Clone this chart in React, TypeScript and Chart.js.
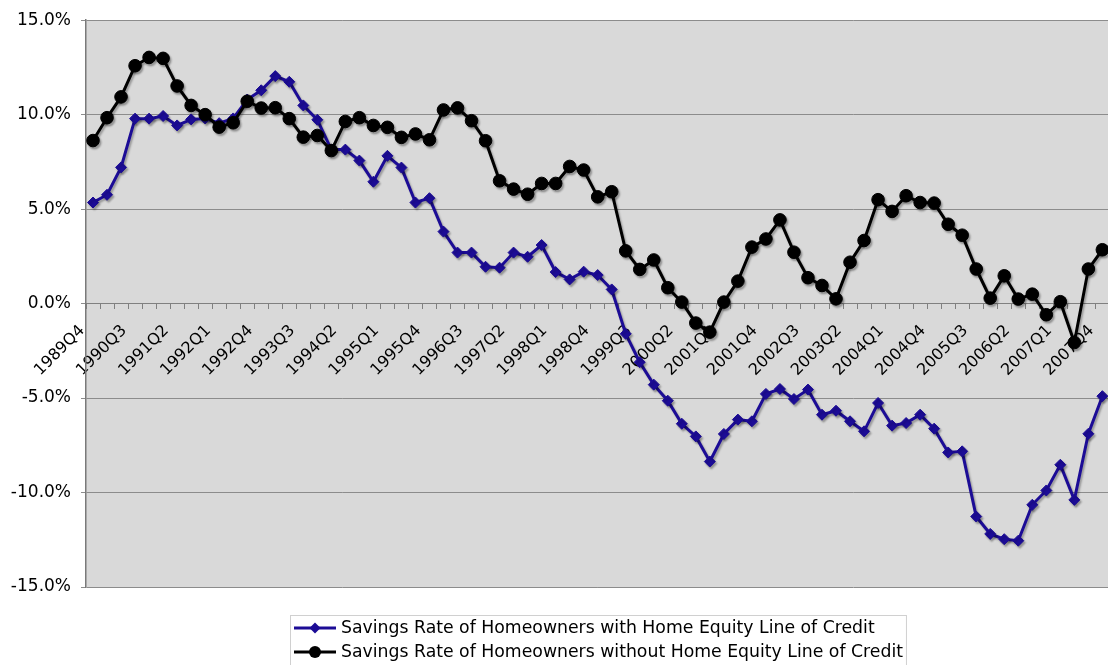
import React, { useEffect, useRef } from 'react';
import { Chart, registerables } from 'chart.js';

Chart.register(...registerables);

const quarters = [
  '1989Q4',
  '1990Q1', '1990Q2', '1990Q3', '1990Q4',
  '1991Q1', '1991Q2', '1991Q3', '1991Q4',
  '1992Q1', '1992Q2', '1992Q3', '1992Q4',
  '1993Q1', '1993Q2', '1993Q3', '1993Q4',
  '1994Q1', '1994Q2', '1994Q3', '1994Q4',
  '1995Q1', '1995Q2', '1995Q3', '1995Q4',
  '1996Q1', '1996Q2', '1996Q3', '1996Q4',
  '1997Q1', '1997Q2', '1997Q3', '1997Q4',
  '1998Q1', '1998Q2', '1998Q3', '1998Q4',
  '1999Q1', '1999Q2', '1999Q3', '1999Q4',
  '2000Q1', '2000Q2', '2000Q3', '2000Q4',
  '2001Q1', '2001Q2', '2001Q3', '2001Q4',
  '2002Q1', '2002Q2', '2002Q3', '2002Q4',
  '2003Q1', '2003Q2', '2003Q3', '2003Q4',
  '2004Q1', '2004Q2', '2004Q3', '2004Q4',
  '2005Q1', '2005Q2', '2005Q3', '2005Q4',
  '2006Q1', '2006Q2', '2006Q3', '2006Q4',
  '2007Q1', '2007Q2', '2007Q3', '2007Q4',
];

const withHeloc = [
  5.35, 5.76, 7.21, 9.79, 9.79, 9.93, 9.43, 9.75, 9.8, 9.55,
  9.8, 10.8, 11.29, 12.04, 11.74, 10.49, 9.73, 8.15, 8.15, 7.57,
  6.45, 7.82, 7.2, 5.35, 5.58, 3.81, 2.7, 2.7, 1.95, 1.9,
  2.7, 2.48, 3.1, 1.67, 1.28, 1.69, 1.51, 0.75, -1.6, -3.1,
  -4.29, -5.14, -6.36, -7.03, -8.36, -6.9, -6.14, -6.23, -4.78, -4.52,
  -5.05, -4.55, -5.88, -5.67, -6.23, -6.76, -5.26, -6.46, -6.32, -5.88,
  -6.62, -7.88, -7.82, -11.27, -12.19, -12.47, -12.55, -10.65, -9.89, -8.53,
  -10.39, -6.89, -4.9,
];

const withoutHeloc = [
  8.63, 9.84, 10.94, 12.59, 13.03, 12.98, 11.52, 10.49, 10.0, 9.34,
  9.57, 10.71, 10.35, 10.37, 9.79, 8.81, 8.9, 8.1, 9.64, 9.84,
  9.43, 9.33, 8.8, 8.98, 8.67, 10.25, 10.36, 9.68, 8.62, 6.5,
  6.06, 5.79, 6.36, 6.36, 7.26, 7.07, 5.65, 5.92, 2.79, 1.81,
  2.31, 0.84, 0.08, -1.03, -1.51, 0.08, 1.19, 2.99, 3.42, 4.43,
  2.72, 1.37, 0.96, 0.25, 2.19, 3.34, 5.5, 4.88, 5.71, 5.35,
  5.32, 4.2, 3.62, 1.83, 0.29, 1.47, 0.24, 0.5, -0.59, 0.1,
  -2.06, 1.83, 2.85,
];

const seriesNames = [
  'Savings Rate of Homeowners with Home Equity Line of Credit',
  'Savings Rate of Homeowners without Home Equity Line of Credit',
];

const Y_MIN = -15;
const Y_MAX = 15;
const Y_STEP = 5;
const LABEL_EVERY = 3;

const BLUE = '#1c0c96';
const BLACK = '#000000';
const FONT = '"DejaVu Sans", sans-serif';

const plotBg = {
  id: 'plotBg',
  beforeDraw(chart: any) {
    const { ctx, chartArea } = chart;
    ctx.save();
    ctx.fillStyle = '#d9d9d9';
    ctx.fillRect(chartArea.left, chartArea.top, chartArea.right - chartArea.left, chartArea.bottom - chartArea.top);
    ctx.restore();
  },
};

const shadow = {
  id: 'shadow',
  beforeDatasetsDraw(chart: any) {
    const ctx = chart.ctx;
    ctx.save();
    ctx.shadowColor = 'rgba(0,0,0,0.3)';
    ctx.shadowOffsetX = 1.5;
    ctx.shadowOffsetY = 2;
    ctx.shadowBlur = 2;
  },
  afterDatasetsDraw(chart: any) {
    chart.ctx.restore();
  },
};

const boxLegend = {
  id: 'boxLegend',
  afterDraw(chart: any) {
    const { ctx, chartArea } = chart;
    const datasets = chart.data.datasets;
    ctx.save();
    ctx.font = '17.3px ' + FONT;
    let textW = 0;
    datasets.forEach((ds: any) => {
      textW = Math.max(textW, ctx.measureText(ds.label).width);
    });
    const sampleW = 42;
    const boxW = 4 + sampleW + 5 + textW + 3;
    const center = (chartArea.left + chartArea.right) / 2;
    const left = Math.round(center - boxW / 2);
    const top = Math.round(chartArea.bottom + 28);
    ctx.strokeStyle = '#d0d0d0';
    ctx.lineWidth = 1;
    ctx.strokeRect(left + 0.5, top + 0.5, boxW, 80);
    datasets.forEach((ds: any, i: number) => {
      const y = top + 13 + i * 24;
      const x0 = left + 4;
      const x1 = x0 + sampleW;
      const xm = (x0 + x1) / 2;
      ctx.strokeStyle = ds.borderColor;
      ctx.lineWidth = 3;
      ctx.beginPath();
      ctx.moveTo(x0, y);
      ctx.lineTo(x1, y);
      ctx.stroke();
      ctx.fillStyle = ds.borderColor;
      ctx.beginPath();
      if (ds.pointStyle === 'rectRot') {
        const r = 5.5;
        ctx.moveTo(xm - r, y);
        ctx.lineTo(xm, y - r);
        ctx.lineTo(xm + r, y);
        ctx.lineTo(xm, y + r);
        ctx.closePath();
      } else {
        ctx.arc(xm, y, 6, 0, Math.PI * 2);
      }
      ctx.fill();
      ctx.fillStyle = '#000';
      ctx.textBaseline = 'middle';
      ctx.textAlign = 'left';
      ctx.fillText(ds.label, x1 + 5, y + 1);
    });
    ctx.restore();
  },
};

export default function App() {
  const ref = useRef<HTMLCanvasElement | null>(null);

  useEffect(() => {
    if (!ref.current) return;
    Chart.defaults.font.family = FONT;
    const chart = new Chart(ref.current, {
      type: 'line',
      data: {
        labels: quarters,
        datasets: [
          {
            label: seriesNames[0],
            data: withHeloc,
            borderColor: BLUE,
            backgroundColor: BLUE,
            borderWidth: 3,
            pointStyle: 'rectRot',
            pointRadius: 5.5,
            pointBorderWidth: 1,
            pointBackgroundColor: BLUE,
            pointBorderColor: BLUE,
            tension: 0,
            fill: false,
            order: 1,
          },
          {
            label: seriesNames[1],
            data: withoutHeloc,
            borderColor: BLACK,
            backgroundColor: BLACK,
            borderWidth: 3,
            pointStyle: 'circle',
            pointRadius: 6.3,
            pointBorderWidth: 1,
            pointBackgroundColor: BLACK,
            pointBorderColor: BLACK,
            tension: 0,
            fill: false,
            order: 0,
          },
        ],
      },
      options: {
        responsive: false,
        animation: false,
        devicePixelRatio: 1,
        layout: { padding: { top: 19, bottom: 78, left: 0, right: 0 } },
        plugins: {
          legend: { display: false },
          tooltip: { enabled: false },
          title: { display: false },
        },
        scales: {
          x: {
            type: 'category',
            offset: true,
            position: { y: 0 } as any,
            grid: {
              display: true,
              drawOnChartArea: false,
              drawTicks: true,
              tickLength: 5,
              offset: true,
              color: '#808080',
            },
            border: { display: true, color: '#808080', width: 1 },
            ticks: {
              autoSkip: false,
              minRotation: 45,
              maxRotation: 45,
              padding: 2,
              color: '#000',
              font: { size: 16, family: FONT },
              callback: (_v: any, i: number) => (i % LABEL_EVERY === 0 ? quarters[i] + '   ' : ''),
            },
          },
          y: {
            type: 'linear',
            position: 'left',
            min: Y_MIN,
            max: Y_MAX,
            afterFit: (s: any) => {
              s.width = 86;
            },
            grid: {
              color: '#8c8c8c',
              lineWidth: 1,
              drawTicks: true,
              tickLength: 5,
            },
            border: { display: true, color: '#7a7a7a', width: 1.5 },
            ticks: {
              stepSize: Y_STEP,
              padding: 10,
              color: '#000',
              font: { size: 17, family: FONT },
              callback: (v: any) => Number(v).toFixed(1) + '%',
            },
          },
        },
      },
      plugins: [plotBg, shadow, boxLegend],
    });
    return () => chart.destroy();
  }, []);

  return (
    <div
      style={{
        position: 'fixed',
        left: 0,
        top: 0,
        width: 1108,
        height: 665,
        overflow: 'hidden',
        background: '#fff',
      }}
    >
      <canvas ref={ref} width={1118} height={665} style={{ display: 'block', width: 1118, height: 665 }} />
    </div>
  );
}
